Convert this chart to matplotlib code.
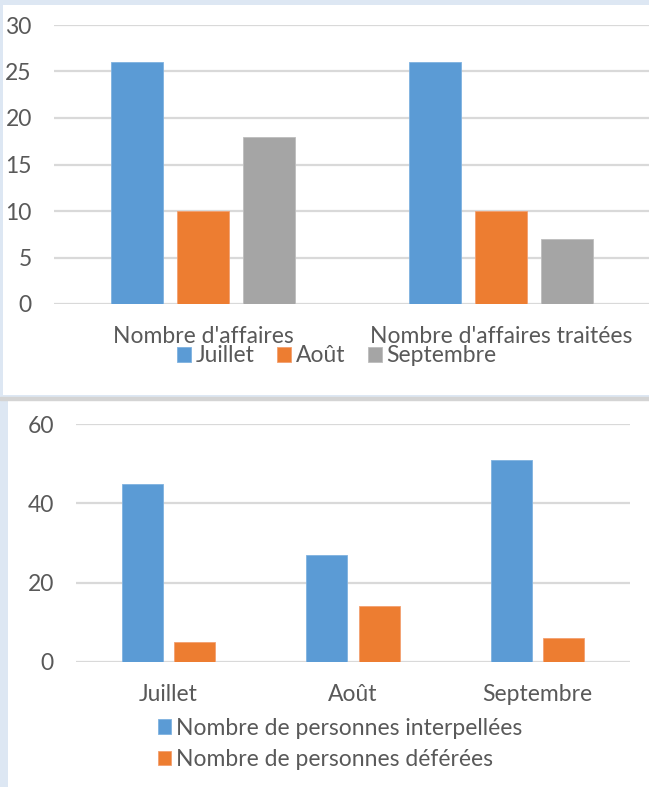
import numpy as np
import matplotlib.pyplot as plt
from matplotlib.patches import Rectangle

plt.rcParams['font.family'] = ['Lato', 'DejaVu Sans']

# top chart data
cats_top = ["Nombre d'affaires", "Nombre d'affaires traitées"]
months = ["Juillet", "Août", "Septembre"]
juillet_top = [26, 26]
aout_top = [10, 10]
septembre_top = [18, 7]

# bottom chart data
cats_bot = ["Juillet", "Août", "Septembre"]
interpellees = [45, 27, 51]
deferees = [5, 14, 6]
series_bot = ["Nombre de personnes interpellées", "Nombre de personnes déférées"]

blue = '#5b9bd5'
orange = '#ed7d31'
grey = '#a5a5a5'
txt = '#595959'
grid = '#d9d9d9'
fs = 16.5

W, H = 649, 787
fig = plt.figure(figsize=(W / 100, H / 100), dpi=100, facecolor='#dde7f3')


def px(x0, y0, x1, y1):
    return [x0 / W, 1 - y1 / H, (x1 - x0) / W, (y1 - y0) / H]


# white panels
for box in (px(3, 5, 652, 395), px(8, 401, 652, 790)):
    bg = fig.add_axes(box)
    bg.set_facecolor('white')
    bg.set_xticks([]); bg.set_yticks([])
    for s in bg.spines.values():
        s.set_visible(False)
# thin shadow between the two panels
fig.patches.append(Rectangle((0, 1 - 400 / H), 1, 3 / H, transform=fig.transFigure,
                             color='#d4d4d4', zorder=0))


def style(ax, ymax, step):
    ax.set_facecolor('none')
    ax.set_ylim(0, ymax)
    ax.set_yticks(np.arange(0, ymax + 1, step))
    ax.yaxis.grid(True, color=grid, linewidth=1.6)
    ax.set_axisbelow(True)
    for s in ax.spines.values():
        s.set_visible(False)
    ax.tick_params(length=0, colors=txt, labelsize=fs)


# --- top chart ---
ax1 = fig.add_axes(px(54, 25, 650, 304))
style(ax1, 30, 5)
ax1.tick_params(axis='y', pad=16)
x = np.arange(len(cats_top))
w = 0.174
off = 0.221
ax1.bar(x - off, juillet_top, w, color=blue, label=months[0], edgecolor='#7fb2e0', linewidth=0.6)
ax1.bar(x, aout_top, w, color=orange, label=months[1], edgecolor='#f3a070', linewidth=0.6)
ax1.bar(x + off, septembre_top, w, color=grey, label=months[2], edgecolor='#bdbdbd', linewidth=0.6)
ax1.set_xlim(-0.5, 1.5)
ax1.set_xticks(x)
ax1.set_xticklabels(cats_top)
ax1.tick_params(axis='x', pad=16)
ax1.legend(loc='center', bbox_to_anchor=(337 / W, 1 - 356 / H), bbox_transform=fig.transFigure,
           ncol=3, frameon=False, fontsize=fs, labelcolor=txt, handlelength=0.6,
           handleheight=0.6, handletextpad=0.2, columnspacing=1.0, borderaxespad=0)

# --- bottom chart ---
ax2 = fig.add_axes(px(76, 424, 630, 662))
style(ax2, 60, 20)
ax2.tick_params(axis='y', pad=16)
x2 = np.arange(len(cats_bot))
w2 = 0.222
off2 = 0.142
ax2.bar(x2 - off2, interpellees, w2, color=blue, label=series_bot[0], edgecolor='#7fb2e0', linewidth=0.6)
ax2.bar(x2 + off2, deferees, w2, color=orange, label=series_bot[1], edgecolor='#f3a070', linewidth=0.6)
ax2.set_xlim(-0.5, 2.5)
ax2.set_xticks(x2)
ax2.set_xticklabels(cats_bot)
ax2.tick_params(axis='x', pad=16)
ax2.legend(loc='center', bbox_to_anchor=(340 / W, 1 - 744 / H), bbox_transform=fig.transFigure,
           ncol=1, frameon=False, fontsize=fs, labelcolor=txt, handlelength=0.6,
           handleheight=0.6, handletextpad=0.2, labelspacing=0.45, borderaxespad=0)

fig.savefig('out.png', dpi=100, facecolor=fig.get_facecolor())
